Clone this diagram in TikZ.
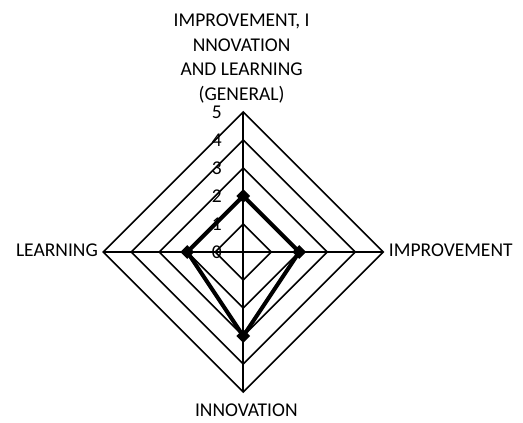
\documentclass[tikz,border=0pt]{standalone}
\usepackage{fontspec}
\setmainfont{Carlito}
\usetikzlibrary{positioning,shapes.geometric}

\begin{document}
\begin{tikzpicture}[x=28pt, y=28pt,
    grid line/.style={line width=1.6pt, line join=miter},
    data line/.style={line width=4pt, line join=round},
    marker/.style={diamond, fill=black, inner sep=0pt, minimum size=14pt},
    axis label/.style={font=\fontsize{19.5}{24.5}\selectfont, inner sep=0pt},
    tick label/.style={font=\fontsize{19.5}{24.5}\selectfont, inner sep=0pt, anchor=east}]

  % keep the margins of the reference
  \useasboundingbox (-243.3pt,-171pt) rectangle (279.7pt,252pt);

  % ends of the four axes
  \coordinate (general) at (0,5);
  \coordinate (improvement) at (5,0);
  \coordinate (innovation) at (0,-5);
  \coordinate (learning) at (-5,0);

  % grid: one diamond per level, then the axes
  \foreach \r in {1,...,5}
    \draw [grid line] (0,\r) -- (\r,0) -- (0,-\r) -- (-\r,0) -- cycle;
  \draw [grid line] (general) -- (innovation);
  \draw [grid line] (learning) -- (improvement);

  % scale on the vertical axis
  \foreach \r in {0,...,5}
    \node [tick label] (tick\r) at (-0.76,\r) {\r};

  % data
  \coordinate (d1) at (0,2);
  \coordinate (d2) at (2,0);
  \coordinate (d3) at (0,-3);
  \coordinate (d4) at (-2,0);
  \draw [data line] (d1) -- (d2) -- (d3) -- (d4) -- cycle;
  \foreach \p in {d1,d2,d3,d4}
    \node [marker] (m\p) at (\p) {};

  % axis labels
  \node [axis label, align=center, anchor=south] (generallabel)
    at (-0.06,5.32) {IMPROVEMENT, I\\NNOVATION\\AND LEARNING\\(GENERAL)};
  \node [axis label, anchor=base west, xshift=5.5pt, yshift=-5pt]
    (improvementlabel) at (improvement) {IMPROVEMENT};
  \node [axis label, anchor=base, xshift=3pt, yshift=-24.7pt]
    (innovationlabel) at (innovation) {INNOVATION};
  \node [axis label, anchor=base east, xshift=-5.3pt, yshift=-5pt]
    (learninglabel) at (learning) {LEARNING};
\end{tikzpicture}
\end{document}
